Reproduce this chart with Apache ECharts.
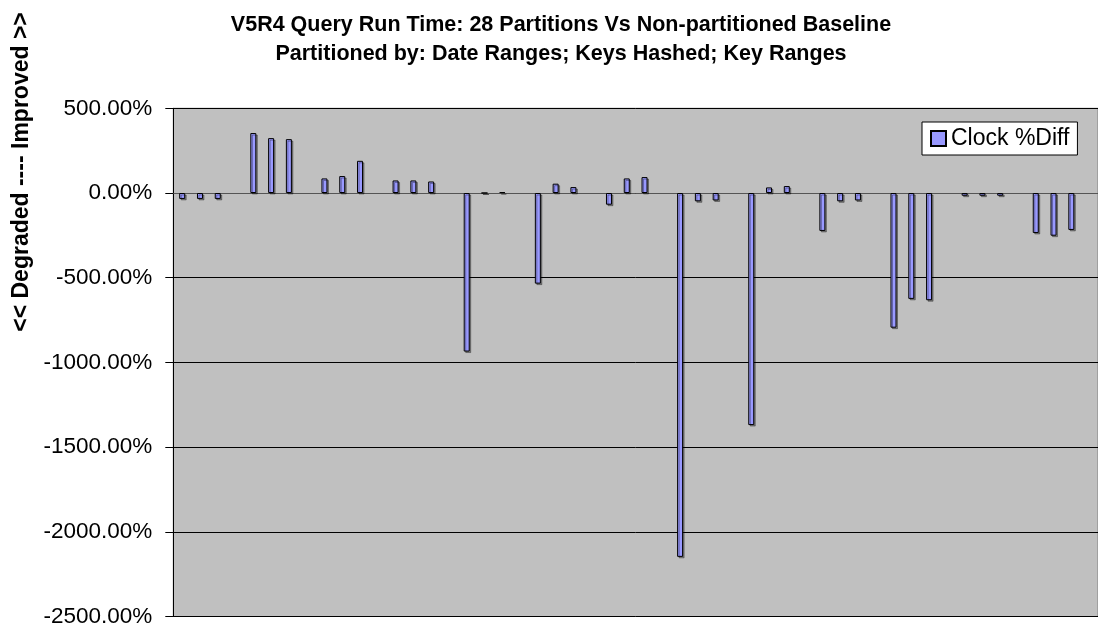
<!DOCTYPE html>
<html>
<head>
<meta charset="utf-8">
<script src="https://cdn.jsdelivr.net/npm/echarts@6/dist/echarts.min.js"></script>
<style>
html,body{margin:0;padding:0;background:#fff;}
#chart{width:1098px;height:628px;}
</style>
</head>
<body>
<div id="chart"></div>
<script>
// 13 groups of 3 runs each, separated by an empty slot
const categories = Array(52).fill('');
const clockDiff = [
  -35, -35, -35, null,
  354, 324, 318, null,
  86, 100, 190, null,
  74, 74, 68, null,
  -936, 0, 5, null,
  -535, 55, 35, null,
  -69, 86, 94, null,
  -2148, -49, -44, null,
  -1370, 33, 41, null,
  -224, -49, -44, null,
  -795, -625, -633, null,
  -16, -16, -16, null,
  -236, -252, -218, null
];
const seriesName = 'Clock %Diff';
const titleLines = [
  'V5R4 Query Run Time: 28 Partitions Vs Non-partitioned Baseline',
  'Partitioned by: Date Ranges; Keys Hashed; Key Ranges'
];
const yAxisTitle = '<< Degraded ---- Improved >>';

const FONT = '"Liberation Sans", Arial, sans-serif';
const chart = echarts.init(document.getElementById('chart'));
chart.setOption({
  backgroundColor: '#ffffff',
  animation: false,
  title: {
    text: titleLines.join('\n'),
    left: 561,
    top: 11,
    textAlign: 'center',
    padding: 0,
    textStyle: {
      fontFamily: FONT,
      fontWeight: 'bold',
      fontSize: 21.5,
      lineHeight: 29,
      color: '#000'
    }
  },
  legend: {
    data: [seriesName],
    left: 922,
    top: 122,
    orient: 'vertical',
    backgroundColor: '#ffffff',
    borderColor: '#000',
    borderWidth: 1,
    borderRadius: 0,
    padding: [5, 8, 5, 8],
    itemWidth: 15,
    itemHeight: 15,
    icon: 'rect',
    textStyle: { fontFamily: FONT, fontSize: 23, color: '#000' }
  },
  graphic: [{
    type: 'text',
    x: 22,
    y: 172,
    rotation: Math.PI / 2,
    style: {
      text: yAxisTitle,
      font: 'bold 23px ' + FONT,
      fill: '#000',
      textAlign: 'center',
      textVerticalAlign: 'middle'
    }
  }],
  grid: {
    left: 173.3,
    top: 108.3,
    width: 929,
    height: 508.4,
    show: true,
    backgroundColor: '#c0c0c0',
    borderColor: '#808080',
    borderWidth: 1
  },
  xAxis: {
    type: 'category',
    data: categories,
    boundaryGap: true,
    axisLine: { show: true, onZero: true, lineStyle: { color: '#555555', width: 1 } },
    axisTick: { show: false },
    axisLabel: { show: false },
    splitLine: { show: false }
  },
  yAxis: {
    type: 'value',
    min: -2500,
    max: 500,
    interval: 500,
    axisLine: { show: true, lineStyle: { color: '#000', width: 1 } },
    axisTick: { show: true, length: 8, lineStyle: { color: '#000' } },
    axisLabel: {
      margin: 21,
      fontFamily: FONT,
      fontSize: 22.5,
      color: '#000',
      formatter: function (v) { return v.toFixed(2) + '%'; }
    },
    splitLine: { show: true, lineStyle: { color: '#000', width: 1 } }
  },
  series: [{
    name: seriesName,
    type: 'bar',
    data: clockDiff,
    barWidth: 6,
    itemStyle: {
      color: '#9999ff',
      borderColor: '#000',
      borderWidth: 1,
      shadowColor: 'rgba(0,0,0,0.35)',
      shadowOffsetX: 1.5,
      shadowOffsetY: 1.5,
      shadowBlur: 0
    }
  }]
});
</script>
</body>
</html>
